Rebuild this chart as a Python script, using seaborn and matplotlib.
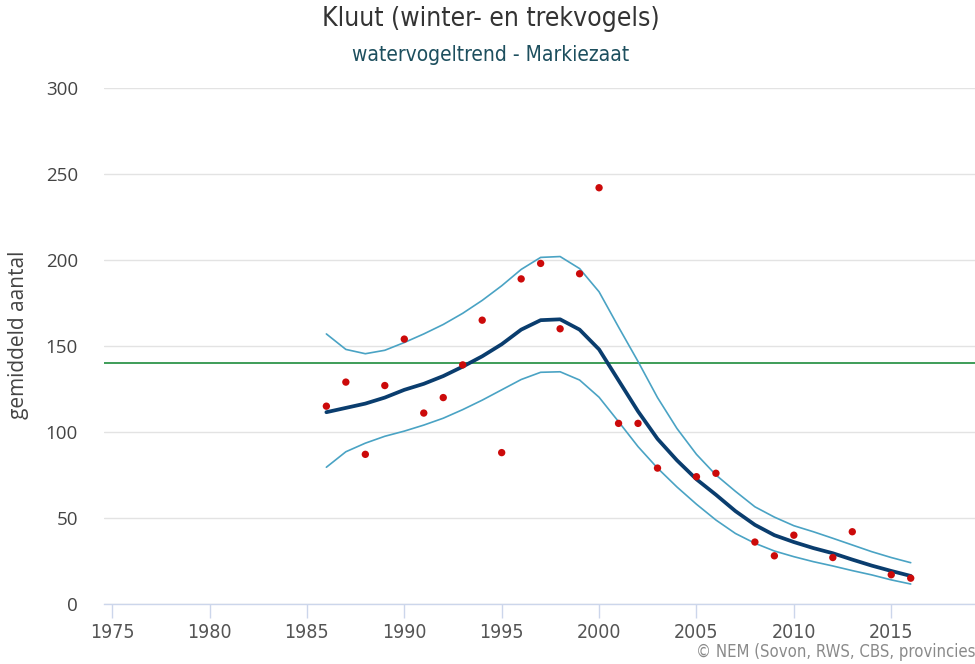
import matplotlib
matplotlib.use("Agg")
import matplotlib.pyplot as plt
import seaborn as sns
import pandas as pd
from matplotlib import font_manager

# Yearly counts (red dots); years without a count are left out
count_years = [1986, 1987, 1988, 1989, 1990, 1991, 1992, 1993, 1994, 1995,
               1996, 1997, 1998, 1999, 2000, 2001, 2002, 2003, 2005, 2006,
               2008, 2009, 2010, 2012, 2013, 2015, 2016]
counts = [115, 129, 87, 127, 154, 111, 120, 139, 165, 88,
          189, 198, 160, 192, 242, 105, 105, 79, 74, 76,
          36, 28, 40, 27, 42, 17, 15]

# Modelled trend with its upper and lower bounds
trend_years = list(range(1986, 2017))
trend = [111.5, 114, 116.5, 120, 124.5, 128, 132.5, 138, 144, 151,
         159.5, 165, 165.5, 159.5, 148, 130, 112, 96, 83.5, 72.5,
         63.5, 54, 46, 40, 36, 32.5, 29.5, 25.8, 22.3, 19.2, 16.3]
upper = [157, 148, 145.5, 147.5, 152, 157, 162.5, 169, 176.5, 185,
         194.5, 201.5, 202, 195, 181.5, 161, 141, 120, 102, 87,
         75, 65.5, 56.5, 50.5, 45.5, 42, 38.2, 34.3, 30.4, 27, 24]
lower = [79.5, 88.5, 93.5, 97.5, 100.5, 104, 108, 113, 118.5, 124.5,
         130.5, 134.7, 135, 130.2, 120.2, 106, 91.5, 79, 68, 58,
         48.8, 41, 35.3, 30.8, 27.5, 24.6, 22.1, 19.4, 16.9, 14, 11.6]

reference_level = 140
x_ticks = [1975, 1980, 1985, 1990, 1995, 2000, 2005, 2010, 2015]
y_ticks = [0, 50, 100, 150, 200, 250, 300]

sns.set_theme(style="white")
plt.rcParams["font.family"] = ["Open Sans", "DejaVu Sans"]

# Condensed face for titles and year labels, when one is installed
names = {f.name for f in font_manager.fontManager.ttflist}
condensed = [f for f in font_manager.fontManager.ttflist
             if f.name in ("DejaVu Sans", "Open Sans", "Roboto", "Noto Sans")
             and f.stretch in ("condensed", 500 - 125, "semi-condensed")]
if "Liberation Sans Narrow" in names:
    narrow = dict(family="Liberation Sans Narrow")
elif condensed:
    narrow = dict(family=condensed[0].name, stretch="condensed")
else:
    narrow = dict(family="DejaVu Sans")

counts_df = pd.DataFrame({"jaar": count_years, "aantal": counts})
trend_df = pd.DataFrame({"jaar": trend_years, "trend": trend,
                         "boven": upper, "onder": lower})

fig = plt.figure(figsize=(9.75, 6.64), dpi=100)
ax = fig.add_axes([0.107, 0.0904, 0.893, 0.7771])

band_color = "#4aa3c4"
sns.lineplot(data=trend_df, x="jaar", y="boven", ax=ax, color=band_color,
             linewidth=1.2, zorder=3)
sns.lineplot(data=trend_df, x="jaar", y="onder", ax=ax, color=band_color,
             linewidth=1.2, zorder=3)
sns.lineplot(data=trend_df, x="jaar", y="trend", ax=ax, color="#0a3d6e",
             linewidth=2.7, zorder=4)
ax.axhline(reference_level, color="#1e8c3c", linewidth=1.2, zorder=2)
sns.scatterplot(data=counts_df, x="jaar", y="aantal", ax=ax, color="#cc0a0a",
                s=28, edgecolor="none", zorder=5)

ax.set_xlim(1974.6, 2019.3)
ax.set_ylim(0, 300)
ax.set_xticks(x_ticks)
ax.set_yticks(y_ticks)
ax.set_xticklabels([str(t) for t in x_ticks], fontsize=14, color="#555555",
                   **narrow)
ax.set_yticklabels([str(t) for t in y_ticks], fontsize=13.5, color="#444444")

ax.grid(axis="y", color="#e3e3e3", linewidth=1)
ax.grid(axis="x", visible=False)
for side in ["top", "right", "left"]:
    ax.spines[side].set_visible(False)
ax.spines["bottom"].set_color("#ccd6eb")
ax.spines["bottom"].set_linewidth(1)
ax.tick_params(axis="x", which="major", bottom=True, length=10, width=1,
               color="#ccd6eb", pad=4)
ax.tick_params(axis="y", which="major", left=False, pad=13)

ax.set_xlabel("")
ax.set_ylabel("gemiddeld aantal", fontsize=15, color="#444444")
ax.yaxis.set_label_coords(-0.087, 0.521)

fig.text(0.503, 0.972, "Kluut (winter- en trekvogels)", ha="center", va="center",
         fontsize=19, color="#333333", **narrow)
fig.text(0.503, 0.917, "watervogeltrend - Markiezaat", ha="center", va="center",
         fontsize=15, color="#1d4f5e", **narrow)
fig.text(1.0, 0.018, "© NEM (Sovon, RWS, CBS, provincies", ha="right", va="center",
         fontsize=12, color="#8a8a8a", **narrow)

fig.savefig("out.png", dpi=100)
